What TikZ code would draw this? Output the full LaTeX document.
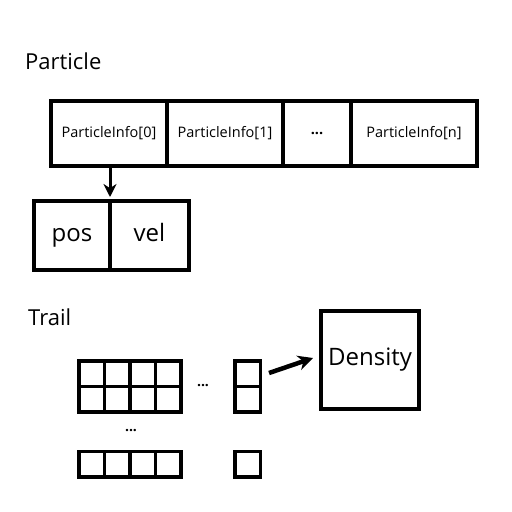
\documentclass[tikz,border=0pt]{standalone}
\usepackage{fontspec}
\setmainfont{Open Sans}
\usetikzlibrary{positioning,arrows.meta}
\tikzset{
    cell/.style={draw, line width=3.5pt, outer sep=0pt, inner sep=0pt,
        minimum height=65pt, font=\fontsize{14.5}{17}\selectfont},
    field/.style={draw, line width=3.5pt, outer sep=0pt, inner sep=0pt,
        minimum height=69pt, text height=17pt, text depth=5pt,
        font=\fontsize{24}{28}\selectfont},
    sq/.style={draw, line width=3.5pt, outer sep=0pt, inner sep=0pt,
        minimum width=25.5pt, minimum height=25.5pt},
    title/.style={anchor=base west, inner sep=0pt, font=\fontsize{22}{26}\selectfont},
    dots/.style={inner sep=0pt, font=\bfseries\fontsize{14}{16}\selectfont}
}

\begin{document}
\begin{tikzpicture}[x=1pt, y=-1pt]
        \useasboundingbox (0,0) rectangle (512,512);
        
        %Particle array
        \node[title] (ptitle) at (25,69) {Particle};
        \node[cell, minimum width=116pt] (info0) at (109,133.5) {ParticleInfo[0]};
        \node[cell, minimum width=116pt, right=0pt of info0] (info1) {ParticleInfo[1]};
        \node[cell, minimum width=68pt, right=0pt of info1] (infodots) {\textbf{...}};
        \node[cell, minimum width=126pt, right=0pt of infodots] (infon) {ParticleInfo[n]};
        
        %fields of one entry
        \node[field, minimum width=76pt] (pos) at (72,235.5) {pos};
        \node[field, minimum width=79pt, right=0pt of pos] (vel) {vel};
        \draw[line width=3pt, shorten >=4pt, -{Stealth[length=13pt, width=13pt]}]
         (info0.south -| pos.north east) ++(0,1.5) -- (pos.north east);
        
        %Trail grid
        \node[title] (ttitle) at (28,325) {Trail};
        \foreach \i in {0,...,3}{
            \node[sq] (g0\i) at (91.75+25.5*\i,373.75) {};
            \node[sq] (g1\i) at (91.75+25.5*\i,399.25) {};
            \node[sq] (gn\i) at (91.75+25.5*\i,464) {};
        }
        \node[sq] (c0) at (247.5,373.75) {};
        \node[sq] (c1) at (247.5,399.25) {};
        \node[sq] (cn) at (247.5,464) {};
        \node[dots] (hdots) at (203,386) {...};
        \node[dots] (vdots) at (131,431) {...};
        
        %density texture
        \node[draw, line width=3.5pt, outer sep=0pt, minimum size=98pt,
            font=\fontsize{24}{28}\selectfont] (density) at (370,360) {Density};
        \coordinate (trailout) at (269,373);
        \draw[line width=4.5pt, -{Stealth[length=15pt, width=15pt]}]
         (trailout) -- ([shift={(-8,-2)}]density.west);
        
\end{tikzpicture}
\end{document}
